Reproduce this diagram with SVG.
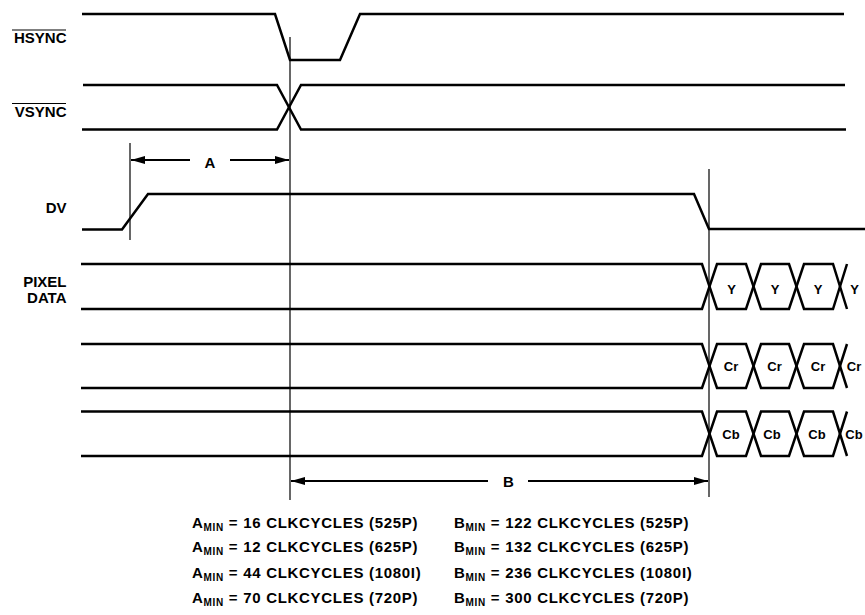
<svg xmlns="http://www.w3.org/2000/svg" width="865" height="615" viewBox="0 0 865 615">
<style>
.sig{fill:none;stroke:#000;stroke-width:2.5;stroke-linejoin:miter}
.ref{fill:none;stroke:#000;stroke-width:1.2}
.dim{fill:none;stroke:#000;stroke-width:2}
.ov{stroke:#000;stroke-width:1.2}
text{font-family:"Liberation Sans",Arial,Helvetica,sans-serif;font-weight:bold;fill:#000}
.lbl{font-size:15px}
.hx{font-size:13px;text-anchor:middle}
.eq{font-size:15px;letter-spacing:0.7px}
.sub{font-size:10px}
</style>
<defs>
<marker id="arr" markerUnits="userSpaceOnUse" markerWidth="15" markerHeight="9" refX="14" refY="4" orient="auto-start-reverse">
<path d="M0,0 L14,4 L0,8 z" fill="#000"/>
</marker>
</defs>
<g id="labels">
<g id="hsync-label"><text class="lbl" x="66.5" y="43" text-anchor="end">HSYNC</text><line class="ov" x1="12" y1="30" x2="66" y2="30"/></g>
<g id="vsync-label"><text class="lbl" x="66.5" y="117" text-anchor="end">VSYNC</text><line class="ov" x1="12" y1="103.5" x2="66" y2="103.5"/></g>
<g id="dv-label"><text class="lbl" x="66.5" y="213" text-anchor="end">DV</text></g>
<g id="pixel-label"><text class="lbl" x="66.5" y="287" text-anchor="end">PIXEL</text><text class="lbl" x="66.5" y="303" text-anchor="end">DATA</text></g>
</g>
<g id="hsync"><path class="sig" d="M82,14 H275 L290,60 H340 L360,14 H844"/></g>
<g id="vsync">
<path class="sig" d="M83,85 H277 L301,129.5 H846"/>
<path class="sig" d="M82,129.5 H277 L301,85 H845"/>
</g>
<g id="dv"><path class="sig" d="M82,229.5 H122 L148,194 H694 L709,229 H865"/></g>
<g id="bus-y">
<path class="sig" d="M81,264 H702 L717,309 H746 L761,264 H789 L804,309 H833 L847,264"/>
<path class="sig" d="M81,309 H702 L717,264 H746 L761,309 H789 L804,264 H833 L847,309"/>
<text class="hx" x="731.5" y="293.5">Y</text>
<text class="hx" x="775" y="293.5">Y</text>
<text class="hx" x="818" y="293.5">Y</text>
<text class="hx" x="854.5" y="293.5">Y</text>
</g>
<g id="bus-cr">
<path class="sig" d="M81,344 H702 L717,388 H746 L761,344 H789 L804,388 H833 L847,344"/>
<path class="sig" d="M81,388 H702 L717,344 H746 L761,388 H789 L804,344 H833 L847,388"/>
<text class="hx" x="731" y="371">Cr</text>
<text class="hx" x="774.5" y="371">Cr</text>
<text class="hx" x="818" y="371">Cr</text>
<text class="hx" x="854" y="371">Cr</text>
</g>
<g id="bus-cb">
<path class="sig" d="M81,411.5 H702 L717,456 H746 L761,411.5 H789 L804,456 H833 L847,411.5"/>
<path class="sig" d="M81,456 H702 L717,411.5 H746 L761,456 H789 L804,411.5 H833 L847,456"/>
<text class="hx" x="731" y="439">Cb</text>
<text class="hx" x="772" y="439">Cb</text>
<text class="hx" x="817" y="439">Cb</text>
<text class="hx" x="854" y="439">Cb</text>
</g>
<g id="connectors">
<line class="ref" x1="130" y1="143" x2="130" y2="240"/>
<line class="ref" x1="290" y1="37" x2="290" y2="500"/>
<line class="ref" x1="709" y1="169" x2="709" y2="497"/>
<line class="dim" x1="131" y1="160" x2="190" y2="160" marker-start="url(#arr)"/>
<line class="dim" x1="230" y1="160" x2="289" y2="160" marker-end="url(#arr)"/>
<line class="dim" x1="291" y1="481" x2="488" y2="481" marker-start="url(#arr)"/>
<line class="dim" x1="528" y1="481" x2="708" y2="481" marker-end="url(#arr)"/>
</g>
<g id="dim-labels">
<text class="lbl" x="210" y="168" text-anchor="middle">A</text>
<text class="lbl" x="508.5" y="487" text-anchor="middle">B</text>
</g>
<g id="notes">
<text class="eq" x="192" y="527.5">A<tspan class="sub" dy="3.3">MIN</tspan><tspan dy="-3.3"> = 16 CLKCYCLES (525P)</tspan></text>
<text class="eq" x="192" y="552">A<tspan class="sub" dy="3.3">MIN</tspan><tspan dy="-3.3"> = 12 CLKCYCLES (625P)</tspan></text>
<text class="eq" x="192" y="577.5">A<tspan class="sub" dy="3.3">MIN</tspan><tspan dy="-3.3"> = 44 CLKCYCLES (1080I)</tspan></text>
<text class="eq" x="192" y="603">A<tspan class="sub" dy="3.3">MIN</tspan><tspan dy="-3.3"> = 70 CLKCYCLES (720P)</tspan></text>
<text class="eq" x="454" y="527.5">B<tspan class="sub" dy="3.3">MIN</tspan><tspan dy="-3.3"> = 122 CLKCYCLES (525P)</tspan></text>
<text class="eq" x="454" y="552">B<tspan class="sub" dy="3.3">MIN</tspan><tspan dy="-3.3"> = 132 CLKCYCLES (625P)</tspan></text>
<text class="eq" x="454" y="577.5">B<tspan class="sub" dy="3.3">MIN</tspan><tspan dy="-3.3"> = 236 CLKCYCLES (1080I)</tspan></text>
<text class="eq" x="454" y="603">B<tspan class="sub" dy="3.3">MIN</tspan><tspan dy="-3.3"> = 300 CLKCYCLES (720P)</tspan></text>
</g>
</svg>
